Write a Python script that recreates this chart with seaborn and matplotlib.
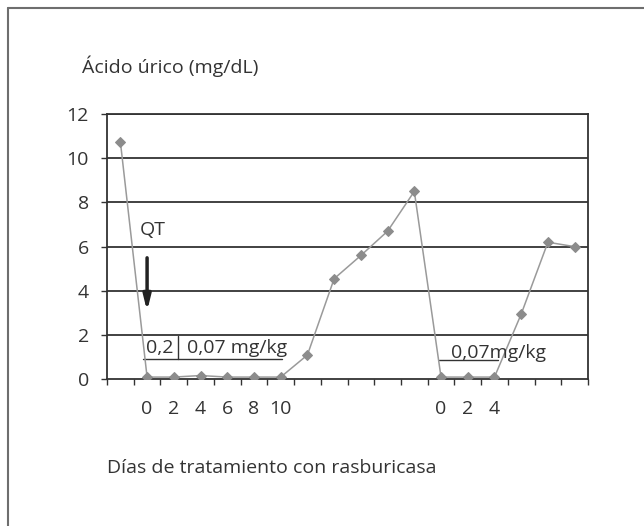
import pandas as pd
import matplotlib
matplotlib.use("Agg")
import matplotlib.pyplot as plt
from matplotlib.lines import Line2D
import seaborn as sns

# Uric acid values, one per day slot
acido_urico = [10.75, 0.1, 0.1, 0.17, 0.1, 0.1, 0.1, 1.1, 4.55, 5.6, 6.7, 8.5,
               0.1, 0.1, 0.1, 2.95, 6.2, 6.0]
dias_labels = ["", "0", "2", "4", "6", "8", "10", "", "", "", "", "",
               "0", "2", "4", "", "", ""]
y_ticks = [0, 2, 4, 6, 8, 10, 12]

df = pd.DataFrame({"pos": range(len(acido_urico)), "acido": acido_urico})

sns.set_style("white")
plt.rcParams["font.family"] = ["Open Sans", "DejaVu Sans"]
txt = "#333333"
fs = 14

fig = plt.figure(figsize=(6.44, 5.26), dpi=100)
ax = fig.add_axes([107 / 644, 1 - 379.3 / 526, 481 / 644, 265.3 / 526])

sns.lineplot(data=df, x="pos", y="acido", ax=ax, color="#9a9a9a", linewidth=1.1,
             marker="D", markersize=5.5, markerfacecolor="#8c8c8c",
             markeredgecolor="#8c8c8c", zorder=3)

ax.set_xlim(-0.5, len(acido_urico) - 0.5)
ax.set_ylim(0, 12)
ax.set_yticks(y_ticks)
ax.set_yticklabels([str(v) for v in y_ticks], fontsize=fs, color=txt)
for v in y_ticks[1:]:
    ax.axhline(v, color="#333333", linewidth=1.3, zorder=1)

# category boundaries as ticks, labels at category centres
ax.set_xticks([i - 0.5 for i in range(len(acido_urico) + 1)])
ax.set_xticklabels([])
ax.set_xticks(range(len(acido_urico)), minor=True)
ax.set_xticklabels(dias_labels, minor=True, fontsize=fs, color=txt)
ax.tick_params(axis="x", which="major", direction="out", length=4, width=1,
               color="#333333", bottom=True)
ax.tick_params(axis="x", which="minor", length=0, pad=15)
ax.tick_params(axis="y", direction="out", length=4, width=1, color="#333333",
               left=True, pad=9)
for s in ax.spines.values():
    s.set_color("#333333")
    s.set_linewidth(1.3)
ax.set_xlabel("")
ax.set_ylabel("")

# annotations
ax.text(0.72, 6.53, "QT", fontsize=fs, color=txt, va="baseline", ha="left")
ax.annotate("", xy=(1.0, 2.95), xytext=(1.0, 5.62),
            arrowprops=dict(arrowstyle="-|>,head_width=0.22,head_length=0.9",
                            color="#222222", lw=2.5))
ax.text(0.96, 1.18, "0,2", fontsize=fs, color=txt, va="baseline", ha="left")
ax.plot([2.15, 2.15], [0.9, 1.96], color="#333333", lw=1)
ax.plot([0.85, 6.04], [0.9, 0.9], color="#333333", lw=1)
ax.text(2.49, 1.18, "0,07 mg/kg", fontsize=fs, color=txt, va="baseline", ha="left")
ax.text(12.37, 0.95, "0,07mg/kg", fontsize=fs, color=txt, va="baseline", ha="left")
ax.plot([11.94, 14.14], [0.87, 0.87], color="#333333", lw=1)

fig.text(82 / 644, 1 - 73 / 526, "Ácido úrico (mg/dL)", fontsize=fs, color=txt,
         va="baseline", ha="left")
fig.text(107 / 644, 1 - 473 / 526, "Días de tratamiento con rasburicasa",
         fontsize=fs, color=txt, va="baseline", ha="left")

# outer frame (left and top edges)
fig.add_artist(Line2D([8 / 644, 8 / 644], [0, 1 - 8 / 526], color="#6e6e6e", lw=1.5))
fig.add_artist(Line2D([8 / 644, 1], [1 - 8 / 526, 1 - 8 / 526], color="#6e6e6e", lw=1.5))

fig.savefig("out.png", dpi=100)
